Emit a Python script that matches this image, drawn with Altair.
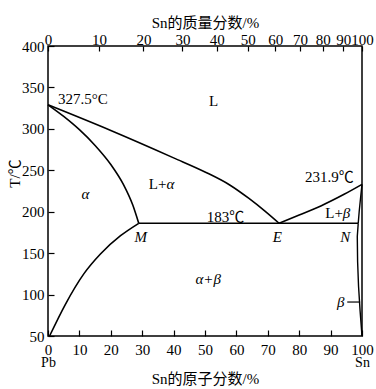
import altair as alt
import pandas as pd

# ---------------- data (x = Sn atomic %, T = °C) ----------------
LIQ_L_X = [0, 20, 40, 50, 58, 64, 69, 73.6]
LIQ_L_T = [329, 298, 265, 248, 232, 216, 201, 186]
SOL_L_X = [0, 5, 10, 15, 20, 24, 27, 28.9]
SOL_L_T = [329, 315, 299, 280, 257, 233, 208, 186]
SLV_L_X = [0.5, 5.5, 11.4, 16.7, 23.1, 28.9]
SLV_L_T = [50, 88, 125, 149, 171, 186]
EUT_X = [28.9, 98.8]
EUT_T = [186, 186]
LIQ_R_X = [73.6, 80, 86.9, 94.3, 100]
LIQ_R_T = [186, 196, 207, 221, 233]
SOL_R_X = [100, 99.5, 99.1, 98.8]
SOL_R_T = [233, 215, 200, 186]
SLV_R_X = [98.8, 98.5, 98.6, 98.9, 99.4, 100]
SLV_R_T = [186, 170, 140, 110, 80, 50]

# axis ticks
BOTTOM_TICKS = [0, 10, 20, 30, 40, 50, 60, 70, 80, 90, 100]
END_TICKS = [0, 100]
END_NAMES = ["Pb", "Sn"]
Y_TICKS = [50, 100, 150, 200, 250, 300, 350, 400]
TOP_MASS = ["0", "10", "20", "30", "40", "50", "60", "70", "80", "90", "100"]
TOP_POS = [0, 16.24, 30.38, 42.80, 53.78, 63.58, 72.36, 80.29, 87.47, 94.02, 100]

# annotations
UPC_TXT = ["327.5°C", "L", "183℃", "231.9℃"]
UPC_X = [11.1, 52.7, 56.5, 89.6]
UPC_T = [335.8, 333.4, 193.6, 241.8]
UPR_TXT = ["L+", "L+"]
UPR_X = [37.7, 93.9]
UPR_T = [233, 198.8]
ITL_TXT = ["α", "β"]
ITL_X = [37.7, 93.9]
ITL_T = [233, 198.8]
ITC_TXT = ["α", "M", "E", "N", "α+β", "β"]
ITC_X = [11.9, 29.5, 73.0, 94.7, 51.0, 93.2]
ITC_T = [221, 169.5, 169.5, 169.5, 118.9, 91]
LEAD_X = [95.3]
LEAD_X2 = [99.4]
LEAD_T = [91]

# ---------------- build tables ----------------
smooth = []
for name, xs, ts in [("liqL", LIQ_L_X, LIQ_L_T), ("solL", SOL_L_X, SOL_L_T),
                     ("slvL", SLV_L_X, SLV_L_T), ("eut", EUT_X, EUT_T),
                     ("liqR", LIQ_R_X, LIQ_R_T)]:
    for i, (x, t) in enumerate(zip(xs, ts)):
        smooth.append({"series": name, "x": x, "T": t, "o": i})
smooth = pd.DataFrame(smooth)

beta = []
for name, xs, ts in [("solR", SOL_R_X, SOL_R_T), ("slvR", SLV_R_X, SLV_R_T)]:
    for i, (x, t) in enumerate(zip(xs, ts)):
        beta.append({"series": name, "x": x, "T": t, "o": i})
beta = pd.DataFrame(beta)

XS = alt.Scale(domain=[0, 100], nice=False, zero=False)
YS = alt.Scale(domain=[50, 400], nice=False, zero=False)
SERIF = "Liberation Serif, Noto Sans CJK SC"

top_label = "[" + ",".join("'%s'" % m for m in TOP_MASS) + "][indexof([" + \
    ",".join(str(p) for p in TOP_POS) + "], datum.value)]"
end_label = "[" + ",".join("'%s'" % m for m in END_NAMES) + "][indexof([" + \
    ",".join(str(p) for p in END_TICKS) + "], datum.value)]"

lines = alt.Chart(smooth).mark_line(color="black", strokeWidth=1.6, interpolate="monotone").encode(
    x=alt.X("x:Q", scale=XS, axis=alt.Axis(
        orient="bottom", values=BOTTOM_TICKS, offset=-6, tickSize=6, domain=False,
        labelPadding=6, labelFlush=False, labelOverlap=False,
        title="Sn的原子分数/%", titleY=48, titleBaseline="middle")),
    y=alt.Y("T:Q", scale=YS, axis=alt.Axis(
        orient="left", values=Y_TICKS, offset=-6, tickSize=6, domain=False,
        labelPadding=4, labelFlush=False, labelOverlap=False,
        title="T/℃", titleAngle=270, titleX=-40, titleY=127,
        titleAlign="center", titleBaseline="middle")),
    detail="series:N",
    order="o:Q",
)

beta_lines = alt.Chart(beta).mark_line(color="black", strokeWidth=1.4, interpolate="linear").encode(
    x=alt.X("x:Q", scale=XS, axis=None),
    y=alt.Y("T:Q", scale=YS, axis=None),
    detail="series:N",
    order="o:Q",
)

top_df = pd.DataFrame({"pos": TOP_POS, "mass": TOP_MASS})
top_axis = alt.Chart(top_df).mark_point(opacity=0).encode(
    x=alt.X("pos:Q", scale=XS, axis=alt.Axis(
        orient="top", values=TOP_POS, offset=-5, tickSize=5, domain=False,
        labelPadding=-1, labelFlush=False, labelOverlap=False, labelExpr=top_label,
        title="Sn的质量分数/%", titlePadding=2)),
    y=alt.value(0),
)

end_df = pd.DataFrame({"pos": END_TICKS, "name": END_NAMES})
end_axis = alt.Chart(end_df).mark_point(opacity=0).encode(
    x=alt.X("pos:Q", scale=XS, axis=alt.Axis(
        orient="bottom", values=END_TICKS, offset=0, tickSize=0, domain=False,
        labelPadding=19, labelFontSize=14, labelFlush=False, labelOverlap=False,
        labelExpr=end_label, title=None)),
    y=alt.value(0),
)


def text_layer(txt, xs, ts, style, align):
    df = pd.DataFrame({"txt": txt, "x": xs, "T": ts})
    return alt.Chart(df).mark_text(font=SERIF, fontSize=15, fontStyle=style, align=align,
                                   baseline="middle", color="black").encode(
        x=alt.X("x:Q", scale=XS, axis=None),
        y=alt.Y("T:Q", scale=YS, axis=None),
        text="txt:N",
    )


t1 = text_layer(UPC_TXT, UPC_X, UPC_T, "normal", "center")
t2 = text_layer(UPR_TXT, UPR_X, UPR_T, "normal", "right")
t3 = text_layer(ITL_TXT, ITL_X, ITL_T, "italic", "left")
t4 = text_layer(ITC_TXT, ITC_X, ITC_T, "italic", "center")

lead_df = pd.DataFrame({"x": LEAD_X, "x2": LEAD_X2, "T": LEAD_T})
lead = alt.Chart(lead_df).mark_rule(color="black", strokeWidth=1.2).encode(
    x=alt.X("x:Q", scale=XS, axis=None), x2="x2:Q",
    y=alt.Y("T:Q", scale=YS, axis=None),
)

chart = alt.layer(lines, top_axis, end_axis, beta_lines, t1, t2, t3, t4, lead).resolve_axis(
    x="independent", y="independent"
).properties(
    width=314, height=290,
    padding={"left": 48, "top": 46, "right": 14, "bottom": 53},
    autosize=alt.AutoSizeParams(type="none"),
    background="white",
).configure_view(
    stroke="black", strokeWidth=1.5
).configure_axis(
    grid=False, labelFont=SERIF, labelFontSize=15, labelColor="black",
    tickColor="black", tickWidth=1.2,
    titleFont=SERIF, titleFontSize=15,
    titleFontWeight="normal", titleColor="black",
)

chart.save("out.html", embed_options={"renderer": "svg", "actions": False})
